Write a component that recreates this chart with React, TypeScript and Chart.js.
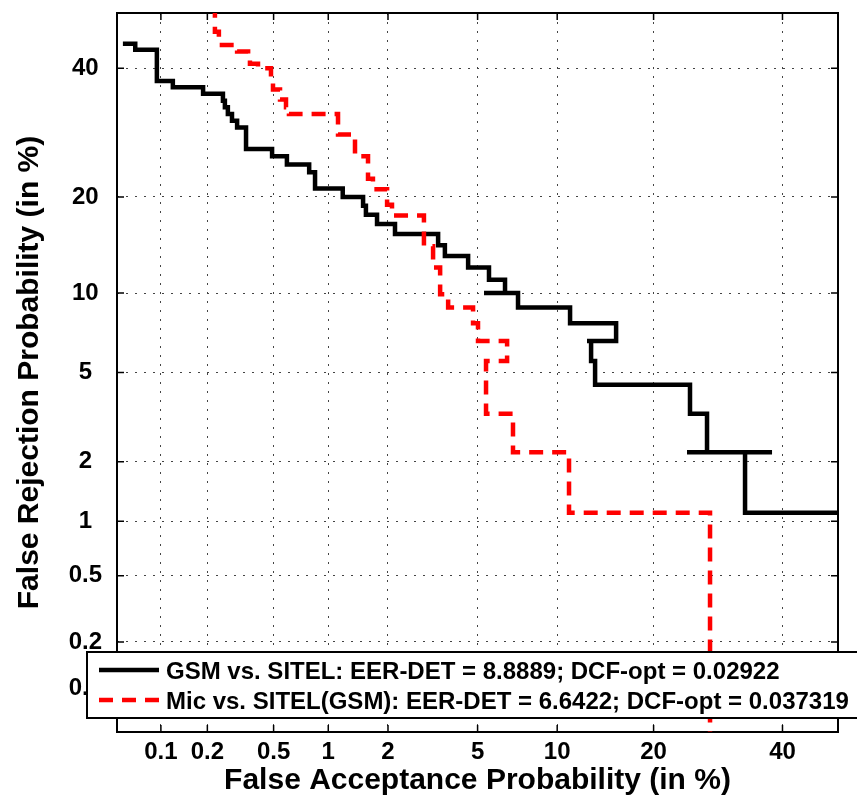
import React, { useEffect, useRef } from 'react';
import { Chart, registerables } from 'chart.js';

Chart.register(...registerables);

// ---- data (percent) ----
const tickValues = [0.1, 0.2, 0.5, 1, 2, 5, 10, 20, 40];
const tickLabels = ['0.1', '0.2', '0.5', '1', '2', '5', '10', '20', '40'];
const axisMinPct = 0.05;
const axisMaxPct = 50;

const gsmFA = [
  0.055, 0.067, 0.067, 0.094, 0.094, 0.12, 0.12, 0.188, 0.188, 0.25,
  0.25, 0.257, 0.257, 0.268, 0.268, 0.284, 0.284, 0.305, 0.305, 0.345,
  0.345, 0.49, 0.49, 0.595, 0.595, 0.79, 0.79, 0.85, 0.85, 1.19,
  1.19, 1.51, 1.51, 1.56, 1.56, 1.77, 1.77, 2.16, 2.16, 3.4,
  3.4, 3.64, 3.64, 4.57, 4.57, 5.56, 5.56, 6.43, 6.43, 5.31,
  7.21, 7.21, 11.07, 11.07, 15.56, 15.56, 12.6, 12.99, 12.99, 13.38,
  13.38, 24.97, 24.97, 27.5, 27.5, 24.54, 38.17, 33.57, 33.57, 50,
];
const gsmFR = [
  44.4, 44.4, 43.3, 43.3, 37.8, 37.8, 36.7, 36.7, 35.6, 35.6,
  34.4, 34.4, 33.3, 33.3, 32.2, 32.2, 31.1, 31.1, 30.0, 30.0,
  26.7, 26.7, 25.6, 25.6, 24.4, 24.4, 23.3, 23.3, 21.1, 21.1,
  20.0, 20.0, 18.9, 18.9, 17.8, 17.8, 16.7, 16.7, 15.6, 15.6,
  14.4, 14.4, 13.3, 13.3, 12.2, 12.2, 11.1, 11.1, 10.0, 10.0,
  10.0, 8.89, 8.89, 7.78, 7.78, 6.67, 6.67, 6.67, 5.56, 5.56,
  4.44, 4.44, 3.33, 3.33, 2.22, 2.22, 2.22, 2.22, 1.11, 1.11,
];

const micFA = [
  0.223, 0.223, 0.236, 0.236, 0.305, 0.305, 0.355, 0.355, 0.364, 0.364,
  0.406, 0.406, 0.483, 0.483, 0.496, 0.496, 0.544, 0.544, 0.588, 0.588,
  0.611, 0.611, 1.125, 1.125, 1.375, 1.375, 1.598, 1.598, 1.69, 1.69,
  1.98, 1.98, 2.09, 2.09, 2.94, 2.94, 3.23, 3.23, 3.47, 3.47,
  3.76, 3.76, 4.79, 4.79, 5.02, 5.02, 6.55, 6.55, 5.41, 5.41,
  6.9, 6.9, 10.98, 10.98, 27.96, 27.96,
];
const micFR = [
  60, 46.6, 46.6, 44.2, 44.2, 43.0, 43.0, 41.5, 41.5, 40.8,
  40.8, 40.0, 40.0, 38.4, 38.4, 36.3, 36.3, 34.6, 34.6, 33.3,
  33.3, 32.2, 32.2, 28.9, 28.9, 25.6, 25.6, 22.4, 22.4, 21.0,
  21.0, 19.0, 19.0, 17.7, 17.7, 14.3, 14.3, 12.2, 12.2, 9.9,
  9.9, 8.89, 8.89, 7.78, 7.78, 6.67, 6.67, 5.56, 5.56, 3.33,
  3.33, 2.22, 2.22, 1.11, 1.11, 0.01,
];

const seriesLabels = [
  'GSM vs. SITEL: EER-DET = 8.8889; DCF-opt = 0.02922',
  'Mic vs. SITEL(GSM): EER-DET = 6.6422; DCF-opt = 0.037319',
];
const xTitle = 'False Acceptance Probability (in %)';
const yTitle = 'False Rejection Probability (in %)';

// ---- helpers ----
function probit(p: number): number {
  const a = [-3.969683028665376e1, 2.209460984245205e2, -2.759285104469687e2, 1.38357751867269e2, -3.066479806614716e1, 2.506628277459239];
  const b = [-5.447609879822406e1, 1.615858368580409e2, -1.556989798598866e2, 6.680131188771972e1, -1.328068155288572e1];
  const c = [-7.784894002430293e-3, -3.223964580411365e-1, -2.400758277161838, -2.549732539343734, 4.374664141464968, 2.938163982698783];
  const d = [7.784695709041462e-3, 3.224671290700398e-1, 2.445134137142996, 3.754408661907416];
  const pLow = 0.02425;
  if (p < pLow) {
    const q = Math.sqrt(-2 * Math.log(p));
    return (((((c[0] * q + c[1]) * q + c[2]) * q + c[3]) * q + c[4]) * q + c[5]) / ((((d[0] * q + d[1]) * q + d[2]) * q + d[3]) * q + 1);
  } else if (p <= 1 - pLow) {
    const q = p - 0.5;
    const r = q * q;
    return ((((((a[0] * r + a[1]) * r + a[2]) * r + a[3]) * r + a[4]) * r + a[5]) * q) / (((((b[0] * r + b[1]) * r + b[2]) * r + b[3]) * r + b[4]) * r + 1);
  }
  const q = Math.sqrt(-2 * Math.log(1 - p));
  return -(((((c[0] * q + c[1]) * q + c[2]) * q + c[3]) * q + c[4]) * q + c[5]) / ((((d[0] * q + d[1]) * q + d[2]) * q + d[3]) * q + 1);
}

const toPoints = (xs: number[], ys: number[]) => xs.map((x, i) => ({ x: probit(x / 100), y: probit(ys[i] / 100) }));

const FAMILY = '"Liberation Sans", Arial, Helvetica, sans-serif';

const framePlugin = {
  id: 'frame',
  beforeDatasetsDraw(chart: any) {
    const { ctx, chartArea: a, scales } = chart;
    ctx.save();
    ctx.strokeStyle = '#000';
    ctx.lineWidth = 1.5;
    const tl = 7;
    ctx.beginPath();
    scales.x.ticks.forEach((t: any) => {
      const px = scales.x.getPixelForValue(t.value);
      ctx.moveTo(px, a.bottom); ctx.lineTo(px, a.bottom - tl);
      ctx.moveTo(px, a.top); ctx.lineTo(px, a.top + tl);
    });
    scales.y.ticks.forEach((t: any) => {
      const py = scales.y.getPixelForValue(t.value);
      ctx.moveTo(a.left, py); ctx.lineTo(a.left + tl, py);
      ctx.moveTo(a.right, py); ctx.lineTo(a.right - tl, py);
    });
    ctx.stroke();
    ctx.lineWidth = 2;
    ctx.strokeRect(a.left, a.top, a.right - a.left, a.bottom - a.top);
    ctx.restore();
  },
};

const legendPlugin = {
  id: 'boxLegend',
  afterDraw(chart: any) {
    const { ctx } = chart;
    const x0 = 87, y0 = 652, h = 66;
    ctx.save();
    ctx.fillStyle = '#fff';
    ctx.fillRect(x0, y0, chart.width - x0 + 10, h);
    ctx.strokeStyle = '#000';
    ctx.lineWidth = 2;
    ctx.strokeRect(x0, y0, chart.width - x0 + 10, h);
    const rows = [
      { y: 670, color: '#000', dash: [] as number[] },
      { y: 700, color: '#ff0000', dash: [14, 9] },
    ];
    rows.forEach((r, i) => {
      ctx.beginPath();
      ctx.setLineDash(r.dash);
      ctx.strokeStyle = r.color;
      ctx.lineWidth = 4.5;
      ctx.moveTo(99, r.y);
      ctx.lineTo(159, r.y);
      ctx.stroke();
      ctx.setLineDash([]);
      ctx.fillStyle = '#000';
      ctx.font = `bold 24px ${FAMILY}`;
      ctx.textAlign = 'left';
      ctx.textBaseline = 'alphabetic';
      ctx.fillText(seriesLabels[i], 166, r.y + 8.6);
    });
    ctx.restore();
  },
};

export default function App() {
  const ref = useRef<HTMLCanvasElement | null>(null);
  useEffect(() => {
    if (!ref.current) return;
    const zMin = probit(axisMinPct / 100);
    const zMax = probit(axisMaxPct / 100);
    const tickFont = { family: FAMILY, size: 24, weight: 'bold' as const };
    const titleFont = { family: FAMILY, size: 30, weight: 'bold' as const };
    const buildTicks = (s: any) => {
      s.ticks = tickValues.map((v) => ({ value: probit(v / 100) }));
    };
    const chart = new Chart(ref.current, {
      type: 'scatter',
      data: {
        datasets: [
          {
            label: seriesLabels[1],
            data: toPoints(micFA, micFR),
            showLine: true,
            borderColor: '#ff0000',
            backgroundColor: '#ff0000',
            borderWidth: 4.5,
            borderDash: [14, 9],
            pointRadius: 0,
            tension: 0,
            order: 0,
          },
          {
            label: seriesLabels[0],
            data: toPoints(gsmFA, gsmFR),
            showLine: true,
            borderColor: '#000',
            backgroundColor: '#000',
            borderWidth: 4.5,
            pointRadius: 0,
            tension: 0,
            order: 1,
          },
        ],
      },
      options: {
        responsive: false,
        animation: false,
        layout: { padding: { left: 0, top: 13, right: 19, bottom: 0 } },
        plugins: { legend: { display: false }, tooltip: { enabled: false } },
        scales: {
          x: {
            type: 'linear',
            min: zMin,
            max: zMax,
            afterBuildTicks: buildTicks,
            afterFit: (s: any) => { s.height = 67; s.paddingLeft = 0; s.paddingRight = 0; },
            ticks: {
              autoSkip: false,
              maxRotation: 0,
              padding: 6,
              color: '#000',
              font: tickFont,
              callback: (_v: any, i: number) => tickLabels[i],
            },
            grid: { color: '#444', lineWidth: 1, drawTicks: false },
            border: { display: false, dash: [2, 7] },
            title: { display: true, text: xTitle, color: '#000', font: titleFont, padding: { top: 0, bottom: 0 } },
          },
          y: {
            type: 'linear',
            min: zMin,
            max: zMax,
            afterBuildTicks: buildTicks,
            afterFit: (s: any) => { s.width = 117; s.paddingTop = 0; s.paddingBottom = 0; },
            ticks: {
              autoSkip: false,
              crossAlign: 'center',
              padding: 15,
              color: '#000',
              font: tickFont,
              callback: (_v: any, i: number) => tickLabels[i],
            },
            grid: { color: '#444', lineWidth: 1, drawTicks: false },
            border: { display: false, dash: [2, 7] },
            title: { display: true, text: yTitle, color: '#000', font: titleFont, padding: { top: 12, bottom: 0 } },
          },
        },
      },
      plugins: [framePlugin, legendPlugin],
    } as any);
    return () => chart.destroy();
  }, []);
  return (
    <div style={{ position: 'fixed', left: 0, top: 0, width: 857, height: 799, background: '#fff' }}>
      <canvas ref={ref} width={857} height={799} />
    </div>
  );
}
